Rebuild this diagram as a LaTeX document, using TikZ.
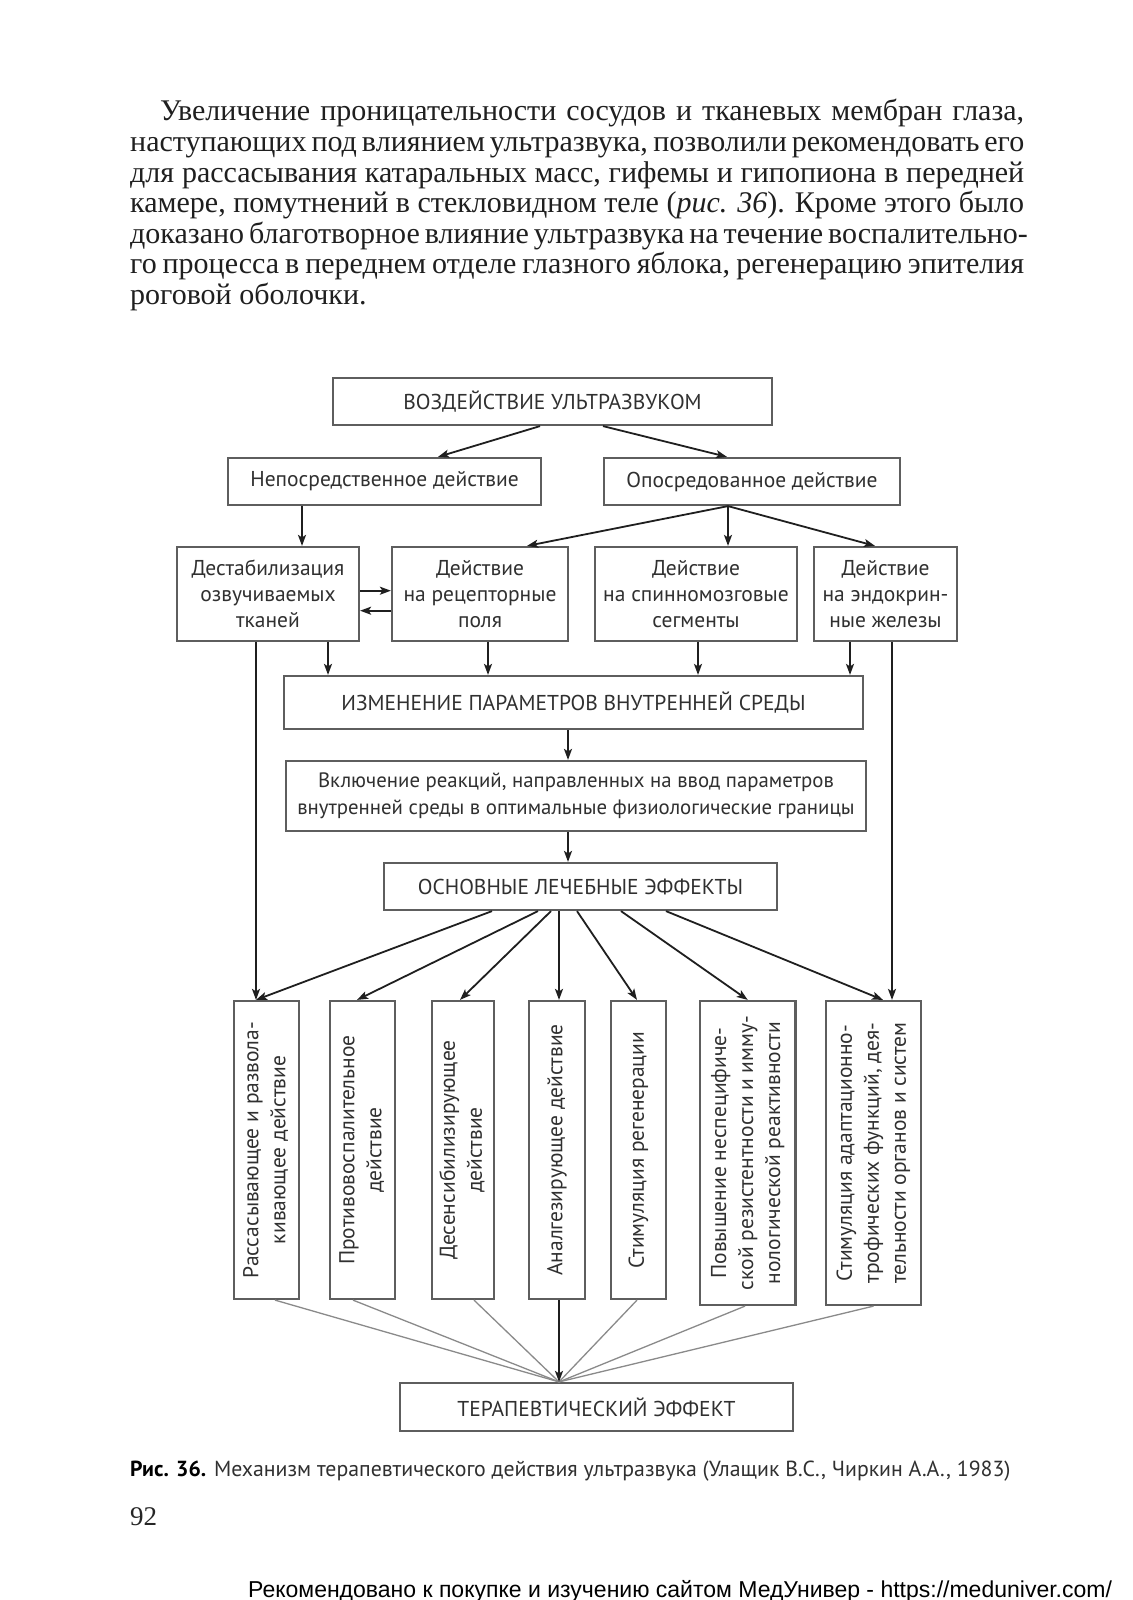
\documentclass[tikz,border=0pt]{standalone}
\usepackage{fontspec}
\usetikzlibrary{arrows.meta}
\setmainfont{Liberation Serif}
\newfontfamily\dgfont{PT Sans}
\newfontfamily\sitefont{Liberation Sans}
\definecolor{boxc}{HTML}{5E5E5E}
\definecolor{txtc}{HTML}{303030}
\definecolor{thinc}{HTML}{8A8A8A}
\begin{document}
\begin{tikzpicture}[x=1pt,y=-1pt,
  box/.style={draw=boxc, line width=2.2pt, inner sep=0pt, align=center, text=txtc,
    font=\dgfont\fontsize{21.5}{26}\selectfont},
  vbox/.style={box, font=\dgfont\fontsize{21.5}{27}\selectfont},
  arr/.style={draw=black!88, line width=1.8pt, -{Stealth[length=11pt,width=8pt,inset=2.5pt]}},
  grayline/.style={draw=thinc, line width=1.3pt},
  ptext/.style={anchor=base west, inner sep=0pt, text=black!88, font=\fontsize{30}{30}\selectfont},
]
\fill[white] (0,0) rectangle (1132,1600);
\useasboundingbox (0,0) rectangle (1132,1600);

% paragraph
\node[ptext] (p1) at (160,121) {\makebox[864pt][s]{Увеличение проницательности сосудов и тканевых мембран глаза,}};
\node[ptext] (p2) at (130,151.5) {\makebox[894pt][s]{наступающих под влиянием ультразвука, позволили рекомендовать его}};
\node[ptext] (p3) at (130,182) {\makebox[894pt][s]{для рассасывания катаральных масс, гифемы и гипопиона в передней}};
\node[ptext] (p4) at (130,212.5) {\makebox[894pt][s]{камере, помутнений в стекловидном теле (\textit{рис. 36}). Кроме этого было}};
\node[ptext] (p5) at (130,243) {\makebox[894pt][s]{доказано благотворное влияние ультразвука на течение воспалительно-}};
\node[ptext] (p6) at (130,273.5) {\makebox[894pt][s]{го процесса в переднем отделе глазного яблока, регенерацию эпителия}};
\node[ptext] (p7) at (130,304) {роговой оболочки.};

% boxes
\node[box, minimum width=439pt, minimum height=47pt] (top) at (552.5,401.5) {ВОЗДЕЙСТВИЕ УЛЬТРАЗВУКОМ};
\node[box, minimum width=313pt, minimum height=47pt] (neposr) at (384.5,481.5) {Непосредственное действие};
\node[box, minimum width=296pt, minimum height=47pt] (oposr) at (752,481.5) {Опосредованное действие};
\node[box, minimum width=182pt, minimum height=94pt] (destab) at (268,594) {Дестабилизация\\озвучиваемых\\тканей};
\node[box, minimum width=176pt, minimum height=94pt] (recep) at (480,594) {Действие\\на рецепторные\\поля};
\node[box, minimum width=202pt, minimum height=94pt] (spinno) at (696,594) {Действие\\на спинномозговые\\сегменты};
\node[box, minimum width=143pt, minimum height=94pt] (endo) at (885.5,594) {Действие\\на эндокрин-\\ные железы};
\node[box, minimum width=579pt, minimum height=53pt] (izmen) at (573.5,702.5) {ИЗМЕНЕНИЕ ПАРАМЕТРОВ ВНУТРЕННЕЙ СРЕДЫ};
\node[box, minimum width=580pt, minimum height=70pt, font=\dgfont\fontsize{20.8}{26.5}\selectfont] (vkl) at (576,796) {Включение реакций, направленных на ввод параметров\\внутренней среды в оптимальные физиологические границы};
\node[box, minimum width=393pt, minimum height=47pt] (osnov) at (580.5,886.5) {ОСНОВНЫЕ ЛЕЧЕБНЫЕ ЭФФЕКТЫ};

\node[vbox, minimum width=65pt, minimum height=298pt] (b1) at (266.5,1150) {\rotatebox{90}{\begin{tabular}{@{}c@{}}Рассасывающее и развола-\\кивающее действие\end{tabular}}};
\node[vbox, minimum width=65pt, minimum height=298pt] (b2) at (362.5,1150) {\rotatebox{90}{\begin{tabular}{@{}c@{}}Противовоспалительное\\действие\end{tabular}}};
\node[vbox, minimum width=62pt, minimum height=298pt] (b3) at (463,1150) {\rotatebox{90}{\begin{tabular}{@{}c@{}}Десенсибилизирующее\\действие\end{tabular}}};
\node[vbox, minimum width=56pt, minimum height=298pt] (b4) at (557,1150) {\rotatebox{90}{Аналгезирующее действие}};
\node[vbox, minimum width=55pt, minimum height=298pt] (b5) at (638.5,1150) {\rotatebox{90}{Стимуляция регенерации}};
\node[vbox, minimum width=95.5pt, minimum height=304pt] (b6) at (747.75,1153) {\rotatebox{90}{\begin{tabular}{@{}c@{}}Повышение неспецифиче-\\ской резистентности и имму-\\нологической реактивности\end{tabular}}};
\node[vbox, minimum width=95pt, minimum height=304pt] (b7) at (873.5,1153) {\rotatebox{90}{\begin{tabular}{@{}c@{}}Стимуляция адаптационно-\\трофических функций, дея-\\тельности органов и систем\end{tabular}}};

\node[box, minimum width=393pt, minimum height=48pt] (terap) at (596.5,1407) {ТЕРАПЕВТИЧЕСКИЙ ЭФФЕКТ};

% connectors
\draw[arr] ([xshift=-12.5pt]top.south) -- ([xshift=53.5pt]neposr.north);
\draw[arr] ([xshift=50.5pt]top.south) -- ([xshift=-25pt]oposr.north);
\draw[arr] ([xshift=-82.5pt]neposr.south) -- ([xshift=34pt]destab.north);
\coordinate (ofan) at ([xshift=-24pt]oposr.south);
\draw[arr] (ofan) -- ([xshift=47pt]recep.north);
\draw[arr] (ofan) -- ([xshift=32pt]spinno.north);
\draw[arr] (ofan) -- ([xshift=-10.5pt]endo.north);
\draw[arr] ([yshift=3.3pt]destab.east) -- ([yshift=3.3pt]recep.west);
\draw[arr] ([yshift=-16.7pt]recep.west) -- ([yshift=-16.7pt]destab.east);
\draw[arr] ([xshift=60pt]destab.south) -- ([xshift=-245.5pt]izmen.north);
\draw[arr] ([xshift=8pt]recep.south) -- ([xshift=-85.5pt]izmen.north);
\draw[arr] ([xshift=2pt]spinno.south) -- ([xshift=124.5pt]izmen.north);
\draw[arr] ([xshift=-35.5pt]endo.south) -- ([xshift=276.5pt]izmen.north);
\draw[arr] ([xshift=-12pt]destab.south) -- ([xshift=-10.5pt]b1.north);
\draw[arr] ([xshift=6.5pt]endo.south) -- ([xshift=18.5pt]b7.north);
\draw[arr] ([xshift=-5.5pt]izmen.south) -- ([xshift=-8pt]vkl.north);
\draw[arr] ([xshift=-8pt]vkl.south) -- ([xshift=-12.5pt]osnov.north);

\draw[arr] ([xshift=-88.5pt]osnov.south) -- ([xshift=-10.5pt]b1.north);
\draw[arr] ([xshift=-42.5pt]osnov.south) -- ([xshift=-5.5pt]b2.north);
\draw[arr] ([xshift=-29.5pt]osnov.south) -- ([xshift=-3pt]b3.north);
\draw[arr] ([xshift=-21.5pt]osnov.south) -- ([xshift=2pt]b4.north);
\draw[arr] ([xshift=-3.5pt]osnov.south) -- ([xshift=-1.5pt]b5.north);
\draw[arr] ([xshift=40.5pt]osnov.south) -- (b6.north);
\draw[arr] ([xshift=85.5pt]osnov.south) -- ([xshift=9.5pt]b7.north);

\coordinate (tin) at ([xshift=-37.5pt]terap.north);
\draw[grayline] ([xshift=8.5pt]b1.south) -- (tin);
\draw[grayline] ([xshift=-9.5pt]b2.south) -- (tin);
\draw[grayline] ([xshift=11pt]b3.south) -- (tin);
\draw[grayline] ([xshift=-1.5pt]b5.south) -- (tin);
\draw[grayline] ([xshift=-2.75pt]b6.south) -- (tin);
\draw[grayline] (b7.south) -- (tin);
\draw[arr] ([xshift=2pt]b4.south) -- (tin);

% caption and page
\node[anchor=base west, inner sep=0pt, text=txtc, font=\dgfont\fontsize{21.8}{25}\selectfont] (cap) at (130,1476)
  {\textcolor{black}{\bfseries Рис. 36.} Механизм терапевтического действия ультразвука (Улащик В.С., Чиркин А.А., 1983)};
\node[anchor=base west, inner sep=0pt, text=black!85, font=\fontsize{27}{30}\selectfont] (pg) at (130,1525) {92};
\node[anchor=base west, inner sep=0pt, text=black, font=\sitefont\fontsize{23}{26}\selectfont] (site) at (248,1597)
  {Рекомендовано к покупке и изучению сайтом МедУнивер - https://meduniver.com/};
\end{tikzpicture}
\end{document}
